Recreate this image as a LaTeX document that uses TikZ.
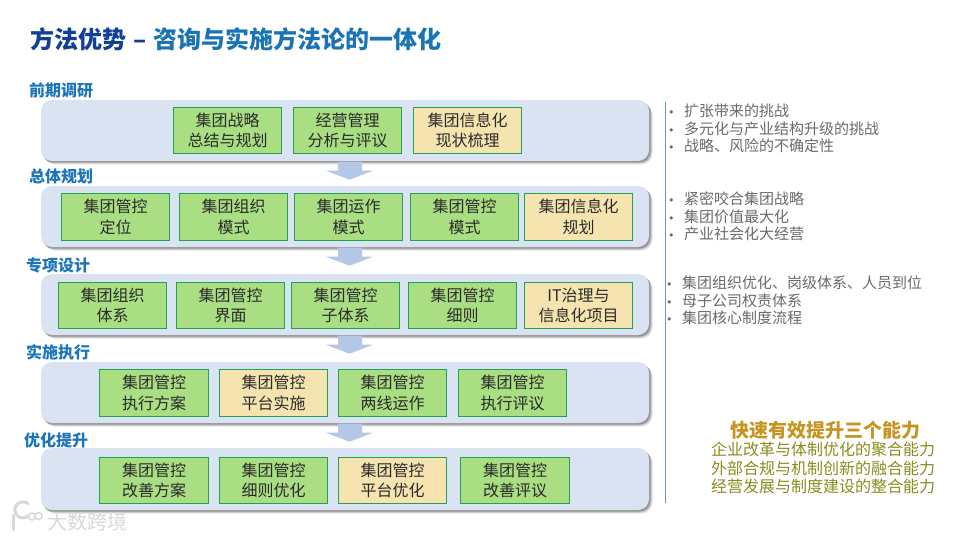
\documentclass[tikz,border=0pt]{standalone}
\usepackage{fontspec}
\setmainfont{Noto Sans CJK SC}
\newfontfamily\bulletfont{DejaVu Sans}
\definecolor{panelc}{HTML}{D9E3F2}
\definecolor{greenc}{HTML}{A9DE82}
\definecolor{sandc}{HTML}{F6E4B0}
\definecolor{edgec}{HTML}{1FA356}
\definecolor{arrowc}{HTML}{B4C7E7}
\definecolor{headc}{HTML}{1B75B8}
\definecolor{titled}{HTML}{123F96}
\definecolor{titlel}{HTML}{1A74B4}
\definecolor{bodyc}{HTML}{2A2A2A}
\definecolor{bulletc}{HTML}{6A6A6A}
\definecolor{goldc}{HTML}{C6951F}
\definecolor{olivec}{HTML}{8C8C1E}
\definecolor{rulec}{HTML}{5F9DB0}
\newcommand{\bl}{\leavevmode\llap{{\fontsize{11}{11}\bulletfont •}\hspace{9.5pt}}}
\tikzset{
  x=1pt,y=-1pt,
  panel/.style={fill=panelc,rounded corners=11pt},
  gbox/.style={draw=edgec,line width=0.9pt,fill=greenc,inner sep=0pt,align=center,
     text=bodyc,font=\fontsize{16}{20.5}\selectfont},
  sbox/.style={gbox,fill=sandc},
  phase/.style={anchor=west,inner sep=0pt,text=headc,font=\fontsize{16}{18}\selectfont\bfseries},
  bulletlist/.style={anchor=north west,inner sep=0pt,text=bulletc,align=left,
     font=\fontsize{15}{17.5}\selectfont},
  wm/.style={anchor=west,inner sep=0pt,text=gray!30,font=\fontsize{20}{22}\selectfont},
  wmline/.style={gray!30,line cap=round},
}
% #1 name, #2 style, #3 left, #4 top, #5 right, #6 bottom, #7 text
\newcommand{\bx}[7]{\node[#2,minimum width=#5pt-#3pt,minimum height=#6pt-#4pt] (#1) at ({(#3+#5)/2},{(#4+#6)/2}) {#7};}
\newcommand{\pn}[3]{%
  \foreach \k/\o in {3.5/0.10,2.5/0.16,1.5/0.22}{
    \fill[black,opacity=\o,rounded corners=11pt] (41+\k-0.5,#2+\k) rectangle (649+\k,#3+\k);}
  \node[panel,minimum width=608pt,minimum height=#3pt-#2pt,inner sep=0pt] (#1) at (345,{(#2+#3)/2}) {};}
% block arrow hanging from the bottom of a panel
\newcommand{\flowarrow}[1]{\fill[arrowc] ([xshift=-7pt,yshift=-0.5pt]#1.south) -- ++(24,0) -- ++(0,9) -- ++(11,0) -- ++(-23.5,9) -- ++(-23.5,-9) -- ++(12,0) -- cycle;}
\begin{document}
\begin{tikzpicture}
\useasboundingbox[fill=white] (0,0) rectangle (960,540);
% title
\node[anchor=west,inner sep=0pt,font=\fontsize{24}{26}\selectfont\bfseries] (title) at (30,39)
  {\textcolor{titled}{方法优势\hspace{7pt}–\hspace{7pt}}\textcolor{titlel}{咨询与实施方法论的一体化}};
% panels
\pn{p1}{100}{161}
\pn{p2}{186}{247}
\pn{p3}{274}{335}
\pn{p4}{362}{423}
\pn{p5}{448}{510}
% arrows
\flowarrow{p1}
\flowarrow{p2}
\flowarrow{p3}
\flowarrow{p4}
% phase labels
\node[phase] (h1) at (29,90.5) {前期调研};
\node[phase] (h2) at (29,176) {总体规划};
\node[phase] (h3) at (26,265.5) {专项设计};
\node[phase] (h4) at (26,352.5) {实施执行};
\node[phase] (h5) at (24,440) {优化提升};
% row 1
\bx{a1}{gbox}{173.5}{107.5}{281.5}{153.5}{集团战略\\总结与规划}
\bx{a2}{gbox}{293.5}{107.5}{401.5}{153.5}{经营管理\\分析与评议}
\bx{a3}{sbox}{413.5}{107.5}{521.5}{153.5}{集团信息化\\现状梳理}
% row 2
\bx{b1}{gbox}{61.5}{193.5}{169.5}{240.5}{集团管控\\定位}
\bx{b2}{gbox}{179.5}{193.5}{287.5}{240.5}{集团组织\\模式}
\bx{b3}{gbox}{294.5}{193.5}{402.5}{240.5}{集团运作\\模式}
\bx{b4}{gbox}{410.5}{193.5}{518.5}{240.5}{集团管控\\模式}
\bx{b5}{sbox}{524.5}{193.5}{632.5}{240.5}{集团信息化\\规划}
% row 3
\bx{c1}{gbox}{58.5}{282.5}{166.5}{328.5}{集团组织\\体系}
\bx{c2}{gbox}{176.5}{282.5}{284.5}{328.5}{集团管控\\界面}
\bx{c3}{gbox}{291.5}{282.5}{399.5}{328.5}{集团管控\\子体系}
\bx{c4}{gbox}{408.5}{282.5}{516.5}{328.5}{集团管控\\细则}
\bx{c5}{sbox}{524.5}{282.5}{632.5}{328.5}{IT治理与\\信息化项目}
% row 4
\bx{d1}{gbox}{99.5}{369.5}{208.5}{416.5}{集团管控\\执行方案}
\bx{d2}{sbox}{219.5}{369.5}{327.5}{416.5}{集团管控\\平台实施}
\bx{d3}{gbox}{338.5}{369.5}{446.5}{416.5}{集团管控\\两线运作}
\bx{d4}{gbox}{458.5}{369.5}{566.5}{416.5}{集团管控\\执行评议}
% row 5
\bx{e1}{gbox}{99.5}{457.5}{208.5}{503.5}{集团管控\\改善方案}
\bx{e2}{gbox}{219.5}{457.5}{327.5}{503.5}{集团管控\\细则优化}
\bx{e3}{sbox}{338.5}{457.5}{446.5}{503.5}{集团管控\\平台优化}
\bx{e4}{gbox}{460.5}{457.5}{569.5}{503.5}{集团管控\\改善评议}
% right rule
\coordinate (r1) at (665.5,102);
\coordinate (r2) at (665.5,503);
\draw[rulec,line width=1pt] (r1) -- (r2);
% right lists
\node[bulletlist] (l1) at (684,104) {\bl 扩张带来的挑战\\\bl 多元化与产业结构升级的挑战\\\bl 战略、风险的不确定性};
\node[bulletlist] (l2) at (684,192) {\bl 紧密咬合集团战略\\\bl 集团价值最大化\\\bl 产业社会化大经营};
\node[bulletlist] (l3) at (682,276) {\bl 集团组织优化、岗级体系、人员到位\\\bl 母子公司权责体系\\\bl 集团核心制度流程};
% capabilities
\node[inner sep=0pt,text=goldc,font=\fontsize{19}{21}\selectfont\bfseries] (cap) at (825.5,430.5) {快速有效提升三个能力};
\node[inner sep=0pt,anchor=north,text=olivec,align=center,font=\fontsize{16}{18.5}\selectfont] (capl) at (823,442) {企业改革与体制优化的聚合能力\\外部合规与机制创新的融合能力\\经营发展与制度建设的整合能力};
% watermark
\node[wm] (wmt) at (47,522) {大数跨境};
\draw[wmline,line width=3pt] (13,515) -- (13,530);
\draw[wmline,line width=3pt] (28,516) arc[start angle=50,end angle=310,radius=8];
\draw[wmline,line width=1.5pt] (32,516.5) circle[radius=3.5];
\draw[wmline,line width=1.5pt] (38.5,516) circle[radius=3.5];
\end{tikzpicture}
\end{document}
